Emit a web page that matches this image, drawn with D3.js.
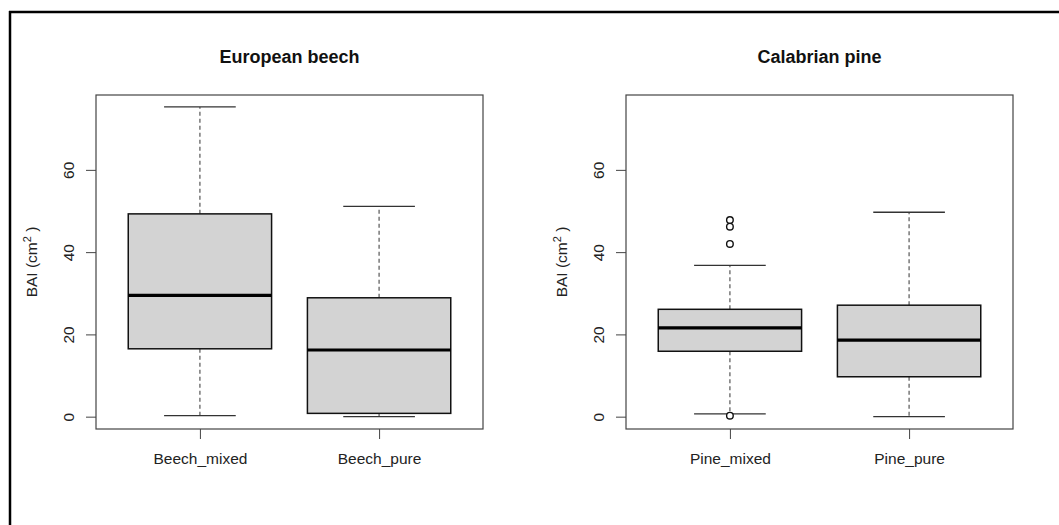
<!DOCTYPE html>
<html>
<head>
<meta charset="utf-8">
<script src="https://cdn.jsdelivr.net/npm/d3@7"></script>
<style>
  body { margin: 0; background: #fff; }
  svg { display: block; font-family: "Liberation Sans", Arial, sans-serif; }
</style>
</head>
<body>
<svg id="chart" width="1059" height="525"></svg>
<script>
// valeurs (BAI en cm2)
var titres = ["European beech", "Calabrian pine"];
var beechGroupes = ["Beech_mixed", "Beech_pure"];
var beechMin = [0.25, 0.0];
var beechQ1 = [16.5, 0.8];
var beechMed = [29.5, 16.2];
var beechQ3 = [49.3, 28.9];
var beechMax = [75.3, 51.1];
var beechOutliers = [[], []];

var pineGroupes = ["Pine_mixed", "Pine_pure"];
var pineMin = [0.7, 0.0];
var pineQ1 = [15.9, 9.7];
var pineMed = [21.6, 18.6];
var pineQ3 = [26.1, 27.1];
var pineMax = [36.8, 49.7];
var pineOutliers = [[47.8, 46.2, 42.0, 0.25], []];

var yTicks = [0, 20, 40, 60];

function stats(groupes, mn, q1, med, q3, mx, out) {
  return groupes.map(function(g, i) {
    return { nom: g, i: i + 1, min: mn[i], q1: q1[i], med: med[i], q3: q3[i], max: mx[i], out: out[i] };
  });
}

var panneaux = [
  { titre: titres[0], x0: 96, data: stats(beechGroupes, beechMin, beechQ1, beechMed, beechQ3, beechMax, beechOutliers) },
  { titre: titres[1], x0: 626, data: stats(pineGroupes, pineMin, pineQ1, pineMed, pineQ3, pineMax, pineOutliers) }
];

var svg = d3.select("#chart");
var largeur = 387, haut = 95, bas = 429;

// cadre exterieur (haut et gauche seulement)
svg.append("line").attr("x1", 9).attr("x2", 1059).attr("y1", 12).attr("y2", 12)
  .attr("stroke", "#000").attr("stroke-width", 2.5);
svg.append("line").attr("x1", 10).attr("x2", 10).attr("y1", 11).attr("y2", 525)
  .attr("stroke", "#000").attr("stroke-width", 2.5);

var y = d3.scaleLinear().domain([-3.0, 78.2]).range([bas, haut]);

panneaux.forEach(function(p) {
  var x = d3.scaleLinear().domain([0.42, 2.58]).range([p.x0, p.x0 + largeur]);
  var g = svg.append("g");
  var bw = (x(1.4) - x(0.6));

  g.append("text")
    .attr("x", p.x0 + largeur / 2).attr("y", 63)
    .attr("text-anchor", "middle")
    .attr("font-size", 18).attr("font-weight", "bold")
    .attr("fill", "#111")
    .text(p.titre);

  // axe y
  var ay = g.append("g").attr("transform", "translate(" + p.x0 + ",0)")
    .call(d3.axisLeft(y).tickValues(yTicks).tickSize(10).tickFormat(d3.format("d")));
  ay.select(".domain").remove();
  ay.selectAll("line").attr("stroke", "#444");
  ay.selectAll("text")
    .attr("x", 0).attr("dy", 0)
    .attr("transform", "translate(-28,0) rotate(-90)")
    .attr("text-anchor", "middle")
    .attr("dominant-baseline", "central")
    .attr("font-size", 15.5).attr("fill", "#222");

  // axe x
  var ax = g.append("g").attr("transform", "translate(0," + bas + ")")
    .call(d3.axisBottom(x).tickValues([1, 2]).tickSize(10)
      .tickFormat(function(d) { return p.data[d - 1].nom; }));
  ax.select(".domain").remove();
  ax.selectAll("line").attr("stroke", "#444");
  ax.selectAll("text").attr("y", 24).attr("dy", "0.71em")
    .attr("font-size", 15.5).attr("fill", "#222");

  // titre axe y
  var lab = g.append("text")
    .attr("transform", "translate(" + (p.x0 - 59) + "," + ((haut + bas) / 2) + ") rotate(-90)")
    .attr("text-anchor", "middle")
    .attr("font-size", 15.5).attr("fill", "#222");
  lab.append("tspan").text("BAI (cm");
  lab.append("tspan").attr("font-size", 11).attr("dy", -6).text("2");
  lab.append("tspan").attr("dy", 6).text(" )");

  var boites = g.selectAll(".boite").data(p.data).enter().append("g");

  // moustaches
  boites.append("line")
    .attr("x1", function(d) { return x(d.i); }).attr("x2", function(d) { return x(d.i); })
    .attr("y1", function(d) { return y(d.q3); }).attr("y2", function(d) { return y(d.max); })
    .attr("stroke", "#555").attr("stroke-width", 1.2).attr("stroke-dasharray", "4,3");
  boites.append("line")
    .attr("x1", function(d) { return x(d.i); }).attr("x2", function(d) { return x(d.i); })
    .attr("y1", function(d) { return y(d.q1); }).attr("y2", function(d) { return y(d.min); })
    .attr("stroke", "#555").attr("stroke-width", 1.2).attr("stroke-dasharray", "4,3");
  ["min", "max"].forEach(function(k) {
    boites.append("line")
      .attr("x1", function(d) { return x(d.i) - bw / 4; }).attr("x2", function(d) { return x(d.i) + bw / 4; })
      .attr("y1", function(d) { return y(d[k]); }).attr("y2", function(d) { return y(d[k]); })
      .attr("stroke", "#333").attr("stroke-width", 1.3);
  });

  boites.append("rect")
    .attr("x", function(d) { return x(d.i) - bw / 2; })
    .attr("width", bw)
    .attr("y", function(d) { return y(d.q3); })
    .attr("height", function(d) { return y(d.q1) - y(d.q3); })
    .attr("fill", "#d3d3d3").attr("stroke", "#111").attr("stroke-width", 1.5);

  boites.append("line")
    .attr("x1", function(d) { return x(d.i) - bw / 2; }).attr("x2", function(d) { return x(d.i) + bw / 2; })
    .attr("y1", function(d) { return y(d.med); }).attr("y2", function(d) { return y(d.med); })
    .attr("stroke", "#000").attr("stroke-width", 3.2);

  boites.selectAll("circle").data(function(d) { return d.out.map(function(v) { return { i: d.i, v: v }; }); })
    .enter().append("circle")
    .attr("cx", function(d) { return x(d.i); })
    .attr("cy", function(d) { return y(d.v); })
    .attr("r", 3.3)
    .attr("fill", "#fff").attr("stroke", "#111").attr("stroke-width", 1.4);

  // cadre du graphique
  g.append("rect")
    .attr("x", p.x0).attr("y", haut).attr("width", largeur).attr("height", bas - haut)
    .attr("fill", "none").attr("stroke", "#444").attr("stroke-width", 1.2);
});
</script>
</body>
</html>
